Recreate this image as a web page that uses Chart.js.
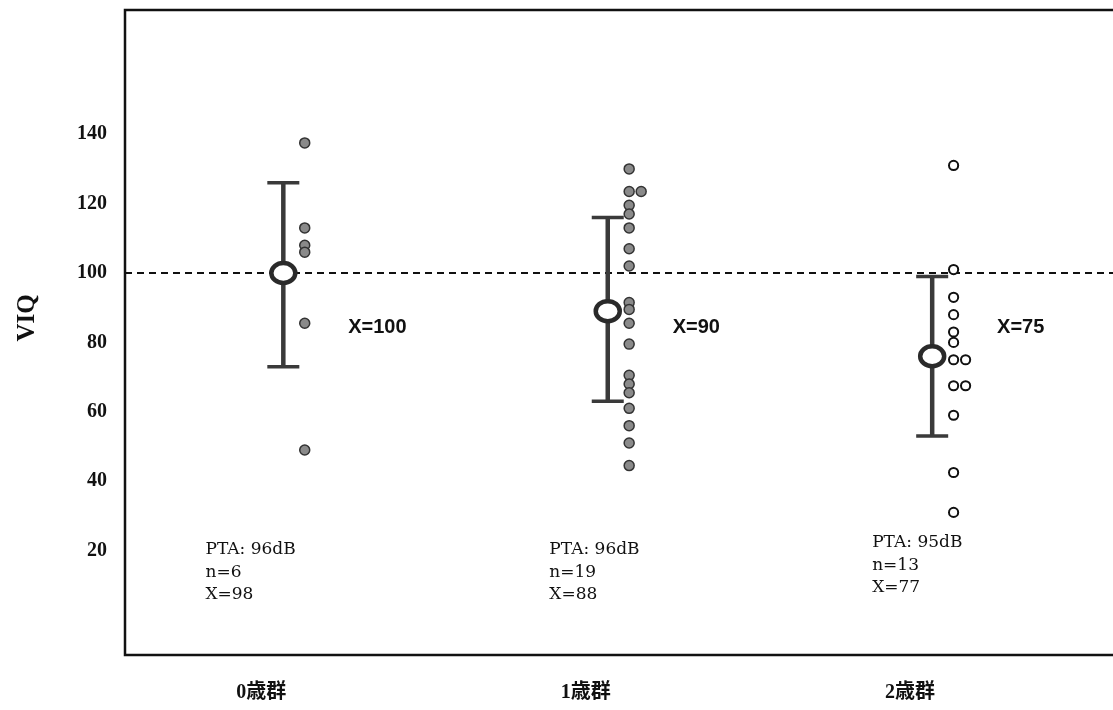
<!DOCTYPE html>
<html>
<head>
<meta charset="utf-8">
<script src="https://cdn.jsdelivr.net/npm/chart.js@4.4.0/dist/chart.umd.min.js"></script>
<style>
  html, body { margin: 0; padding: 0; background: #fff; }
  #wrap { width: 1113px; height: 710px; }
</style>
</head>
<body>
<div id="wrap"><canvas id="viq-chart" width="1113" height="710"></canvas></div>
<script>
// values
const groups = ['0歳群', '1歳群', '2歳群'];
const meanValues = [100, 89, 76];
const sdHigh = [126, 116, 99];
const sdLow = [73, 63, 53];
const meanLabels = ['X=100', 'X=90', 'X=75'];
const ptaLabels = ['PTA: 96dB', 'PTA: 96dB', 'PTA: 95dB'];
const nLabels = ['n=6', 'n=19', 'n=13'];
const avgLabels = ['X=98', 'X=88', 'X=77'];
const yTicks = [20, 40, 60, 80, 100, 120, 140];
const refLine = 100;

const group0 = [137.5, 113, 108, 106, 85.5, 49];
const group1 = [130, 123.5, 123.5, 119.5, 117, 113, 107, 102, 91.5, 89.5, 85.5, 79.5, 70.5, 68, 65.5, 61, 56, 51, 44.5];
const group2 = [131, 101, 93, 88, 83, 80, 75, 75, 67.5, 67.5, 59, 42.5, 31];

const DOT_SHIFT = 0.066;
const DUP_SHIFT = 0.037;

// same values sit side by side
function toPoints(values, idx) {
    const seen = {};
    return values.map(v => {
        const k = seen[v] || 0;
        seen[v] = k + 1;
        return { x: idx + DOT_SHIFT + k * DUP_SHIFT, y: v };
    });
}

const figurePlugin = {
    id: 'figure',
    beforeDatasetsDraw(chart) {
        const { ctx, chartArea: a, scales: { x, y } } = chart;
        const W = chart.width;
        ctx.save();

        // frame (right side runs off the page)
        ctx.strokeStyle = '#111';
        ctx.lineWidth = 2.5;
        ctx.beginPath();
        ctx.moveTo(W, a.top);
        ctx.lineTo(a.left, a.top);
        ctx.lineTo(a.left, a.bottom);
        ctx.lineTo(W, a.bottom);
        ctx.stroke();

        // reference line
        const ry = y.getPixelForValue(refLine);
        ctx.setLineDash([7, 5]);
        ctx.lineWidth = 2;
        ctx.beginPath();
        ctx.moveTo(a.left, ry);
        ctx.lineTo(W, ry);
        ctx.stroke();
        ctx.setLineDash([]);

        // error bars and means
        groups.forEach((g, i) => {
            const px = x.getPixelForValue(i);
            const top = y.getPixelForValue(sdHigh[i]);
            const bot = y.getPixelForValue(sdLow[i]);
            ctx.strokeStyle = '#3a3a3a';
            ctx.lineWidth = 4.5;
            ctx.beginPath();
            ctx.moveTo(px, top);
            ctx.lineTo(px, bot);
            ctx.stroke();
            ctx.lineWidth = 3.5;
            ctx.beginPath();
            ctx.moveTo(px - 16, top);
            ctx.lineTo(px + 16, top);
            ctx.moveTo(px - 16, bot);
            ctx.lineTo(px + 16, bot);
            ctx.stroke();

            const my = y.getPixelForValue(meanValues[i]);
            ctx.fillStyle = '#fff';
            ctx.strokeStyle = '#2a2a2a';
            ctx.lineWidth = 4.5;
            ctx.beginPath();
            ctx.ellipse(px, my, 12, 10, 0, 0, Math.PI * 2);
            ctx.fill();
            ctx.stroke();
        });
        ctx.restore();
    },
    afterDraw(chart) {
        const { ctx, scales: { x } } = chart;
        ctx.save();
        ctx.fillStyle = '#111';

        // y title
        ctx.save();
        ctx.translate(28, 318);
        ctx.rotate(-Math.PI / 2);
        ctx.font = 'bold 25px "Liberation Serif", serif';
        ctx.textAlign = 'center';
        ctx.textBaseline = 'middle';
        ctx.fillText('VIQ', 0, 0);
        ctx.restore();

        // category labels
        ctx.font = 'bold 20px "Liberation Serif", "Noto Sans CJK JP", serif';
        ctx.textAlign = 'center';
        ctx.textBaseline = 'middle';
        groups.forEach((g, i) => {
            ctx.fillText(g, x.getPixelForValue(i - 0.068), 693);
        });

        // mean labels at the right of each group
        ctx.font = 'bold 20px "Liberation Sans", Arial, sans-serif';
        ctx.textAlign = 'left';
        meanLabels.forEach((t, i) => {
            ctx.fillText(t, x.getPixelForValue(i + 0.2), 327);
        });

        // PTA notes
        ctx.font = '17px "DejaVu Serif", serif';
        const noteX = [-0.24, -0.18, -0.185];
        const noteY = [550, 550, 543];
        groups.forEach((g, i) => {
            const nx = x.getPixelForValue(i + noteX[i]);
            [ptaLabels[i], nLabels[i], avgLabels[i]].forEach((t, k) => {
                ctx.fillText(t, nx, noteY[i] + k * 22.5);
            });
        });
        ctx.restore();
    }
};

new Chart(document.getElementById('viq-chart'), {
    type: 'scatter',
    data: {
        datasets: [
            { data: toPoints(group0, 0), backgroundColor: '#8a8a8a', borderColor: '#333', borderWidth: 1.5, pointRadius: 5 },
            { data: toPoints(group1, 1), backgroundColor: '#8a8a8a', borderColor: '#333', borderWidth: 1.5, pointRadius: 5 },
            { data: toPoints(group2, 2), backgroundColor: '#fff', borderColor: '#111', borderWidth: 2, pointRadius: 4.6 }
        ]
    },
    options: {
        responsive: false,
        animation: false,
        layout: { padding: { top: 10, right: 0, left: 0, bottom: 0 } },
        plugins: { legend: { display: false }, tooltip: { enabled: false } },
        scales: {
            x: {
                type: 'linear', min: -0.488, max: 2.537,
                grid: { display: false }, border: { display: false },
                ticks: { display: false },
                afterFit: s => { s.height = 55; s.paddingLeft = 0; s.paddingRight = 0; }
            },
            y: {
                min: -10.1, max: 175.8,
                grid: { display: false, drawTicks: false }, border: { display: false },
                afterBuildTicks: s => { s.ticks = yTicks.map(v => ({ value: v })); },
                ticks: { color: '#111', padding: 18, font: { family: '"Liberation Serif", serif', weight: 'bold', size: 20 } },
                afterFit: s => { s.width = 125; s.paddingTop = 0; s.paddingBottom = 0; }
            }
        }
    },
    plugins: [figurePlugin]
});
</script>
</body>
</html>
